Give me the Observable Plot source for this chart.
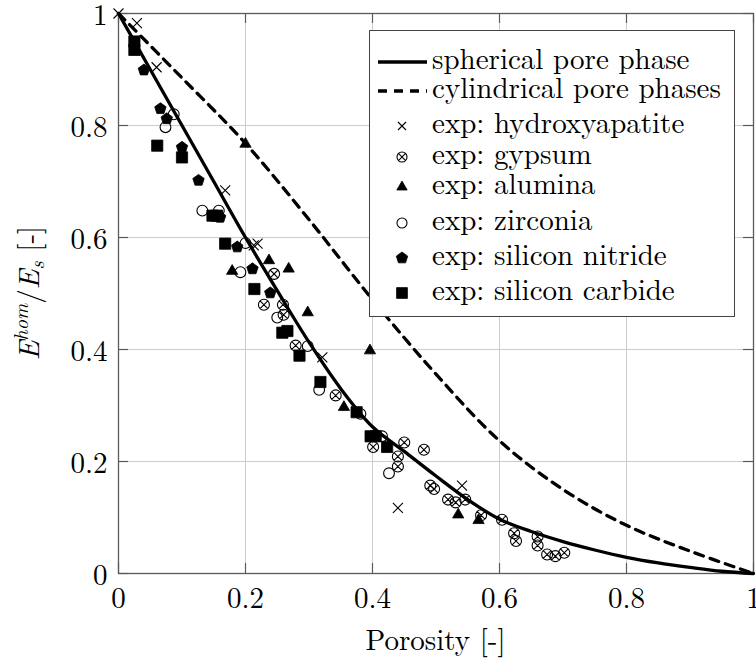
<!DOCTYPE html>
<html><head><meta charset="utf-8">
<script src="https://cdn.jsdelivr.net/npm/d3@7"></script>
<script src="https://cdn.jsdelivr.net/npm/@observablehq/plot@0.6"></script>
<style>
body{margin:0;background:#fff;}
#wrap{position:relative;width:756px;height:661px;overflow:hidden;background:#fff;}
#legend{position:absolute;left:369px;top:30px;}
#wrap svg text{font-family:"Latin Modern Roman","CMU Serif","Liberation Serif","DejaVu Serif","Tinos","Noto Serif","FreeSerif","Nimbus Roman","TeX Gyre Termes","Times New Roman",Times,serif !important;}
</style></head><body><div id="wrap"></div>
<script>
// ---- data ----
const xTicks = [0, 0.2, 0.4, 0.6, 0.8, 1];
const yTicks = [0, 0.2, 0.4, 0.6, 0.8, 1];
const tickLabels = ["0", "0.2", "0.4", "0.6", "0.8", "1"];

const sphericalPorosity = [0, 0.05, 0.1, 0.15, 0.2, 0.25, 0.3, 0.35, 0.4, 0.45, 0.5, 0.55, 0.6, 0.65, 0.7, 0.75, 0.8, 0.85, 0.9, 0.95, 1];
const sphericalModulus  = [1, 0.90, 0.80, 0.70, 0.60, 0.505, 0.413, 0.33, 0.262, 0.218, 0.174, 0.132, 0.097, 0.075, 0.057, 0.042, 0.029, 0.019, 0.011, 0.004, 0];

const cylindricalPorosity = [0, 0.1, 0.2, 0.3, 0.4, 0.5, 0.6, 0.7, 0.8, 0.9, 1];
const cylindricalModulus  = [1, 0.885, 0.768, 0.632, 0.489, 0.356, 0.237, 0.150, 0.086, 0.040, 0];

const hydroxyapatite = [[0, 1.0], [0.029, 0.983], [0.06, 0.904], [0.168, 0.684], [0.213, 0.586], [0.219, 0.589], [0.321, 0.386], [0.44, 0.117], [0.541, 0.157]];
const gypsum = [[0.245, 0.535], [0.229, 0.48], [0.259, 0.48], [0.26, 0.462], [0.279, 0.407], [0.342, 0.318], [0.401, 0.226], [0.45, 0.234], [0.481, 0.221], [0.44, 0.209], [0.44, 0.191], [0.491, 0.157], [0.497, 0.151], [0.519, 0.132], [0.531, 0.127], [0.546, 0.132], [0.571, 0.104], [0.604, 0.096], [0.623, 0.072], [0.626, 0.058], [0.66, 0.066], [0.66, 0.05], [0.675, 0.034], [0.688, 0.031], [0.702, 0.037]];
const alumina = [[0.2, 0.767], [0.179, 0.54], [0.237, 0.559], [0.268, 0.544], [0.298, 0.466], [0.355, 0.297], [0.396, 0.398], [0.535, 0.105], [0.567, 0.095]];
const zirconia = [[0.074, 0.797], [0.087, 0.82], [0.132, 0.648], [0.158, 0.648], [0.2, 0.59], [0.192, 0.538], [0.25, 0.457], [0.298, 0.406], [0.316, 0.328], [0.381, 0.285], [0.415, 0.245], [0.426, 0.179]];
const siliconNitride = [[0.04, 0.899], [0.066, 0.83], [0.076, 0.812], [0.1, 0.761], [0.126, 0.702], [0.16, 0.636], [0.187, 0.583], [0.211, 0.544], [0.239, 0.501]];
const siliconCarbide = [[0.025, 0.95], [0.025, 0.935], [0.061, 0.764], [0.1, 0.743], [0.148, 0.639], [0.155, 0.639], [0.168, 0.589], [0.214, 0.508], [0.258, 0.43], [0.266, 0.433], [0.285, 0.389], [0.318, 0.342], [0.375, 0.288], [0.397, 0.245], [0.405, 0.245], [0.423, 0.226]];

const legendLabels = ["spherical pore phase", "cylindrical pore phases", "exp: hydroxyapatite", "exp: gypsum", "exp: alumina", "exp: zirconia", "exp: silicon nitride", "exp: silicon carbide"];

// ---- symbols ----
const R = s => Math.sqrt(s / Math.PI);
const symSquare = {draw(c, s) { const r = R(s); c.rect(-r, -r, 2 * r, 2 * r); }};
const polygon = (n) => ({draw(c, s) { const r = R(s); for (let i = 0; i < n; i++) { const a = -Math.PI / 2 + i * 2 * Math.PI / n; const x = r * Math.cos(a), y = r * Math.sin(a); if (i) c.lineTo(x, y); else c.moveTo(x, y); } c.closePath(); }});
const symPentagon = polygon(5);
const symTriangle = polygon(3);
const symTimes = {draw(c, s) { const r = R(s); c.moveTo(-r, -r); c.lineTo(r, r); c.moveTo(-r, r); c.lineTo(r, -r); }};
const symCircle = {draw(c, s) { const r = R(s); c.moveTo(r, 0); c.arc(0, 0, r, 0, 2 * Math.PI); }};
const symOtimes = {draw(c, s) { const r = R(s); c.moveTo(r, 0); c.arc(0, 0, r, 0, 2 * Math.PI); const q = r / Math.SQRT2; c.moveTo(-q, -q); c.lineTo(q, q); c.moveTo(-q, q); c.lineTo(q, -q); }};

const series = [
  {data: hydroxyapatite, symbol: symTimes, r: 5, fill: "none", stroke: "black", sw: 1.1, lr: 4},
  {data: gypsum, symbol: symOtimes, r: 5.5, fill: "none", stroke: "black", sw: 1.1, lr: 5},
  {data: alumina, symbol: symTriangle, r: 6.5, fill: "black", stroke: "black", sw: 0.8, lr: 6},
  {data: zirconia, symbol: symCircle, r: 5.4, fill: "none", stroke: "black", sw: 1.1, lr: 5},
  {data: siliconNitride, symbol: symPentagon, r: 6, fill: "black", stroke: "black", sw: 0.8, lr: 6},
  {data: siliconCarbide, symbol: symSquare, r: 5.6, fill: "black", stroke: "black", sw: 0.8, lr: 5.4}
];

const fmt = d => tickLabels[xTicks.indexOf(d)] ?? String(d);

const spherical = sphericalPorosity.map((x, i) => ({x, y: sphericalModulus[i]}));
const cylindrical = cylindricalPorosity.map((x, i) => ({x, y: cylindricalModulus[i]}));

const axisColor = "#5a5a5a";
const plot = Plot.plot({
  width: 756, height: 661,
  marginLeft: 118, marginRight: 3, marginTop: 13, marginBottom: 88,
  x: {domain: [0, 1]},
  y: {domain: [0, 1]},
  style: {fontSize: "29px", background: "white", color: "black", overflow: "visible"},
  marks: [
    Plot.gridX(xTicks, {stroke: "#cccccc", strokeOpacity: 1, strokeWidth: 1}),
    Plot.gridY(yTicks, {stroke: "#cccccc", strokeOpacity: 1, strokeWidth: 1}),
    Plot.tickX(xTicks, {x: d => d, insetTop: 550, stroke: axisColor, strokeWidth: 1.2}),
    Plot.tickX(xTicks, {x: d => d, insetBottom: 550, stroke: axisColor, strokeWidth: 1.2}),
    Plot.tickY(yTicks, {y: d => d, insetRight: 625, stroke: axisColor, strokeWidth: 1.2}),
    Plot.tickY(yTicks, {y: d => d, insetLeft: 625, stroke: axisColor, strokeWidth: 1.2}),
    Plot.frame({stroke: axisColor, strokeWidth: 1.3}),
    Plot.axisX(xTicks, {tickSize: 0, tickPadding: 14, tickFormat: fmt, label: null, fill: "black"}),
    Plot.axisY(yTicks, {tickSize: 0, tickPadding: 11, tickFormat: fmt, label: null, fill: "black", dy: 2}),
    Plot.line(spherical, {x: "x", y: "y", stroke: "black", strokeWidth: 3.3, curve: "catmull-rom"}),
    Plot.line(cylindrical, {x: "x", y: "y", stroke: "black", strokeWidth: 3.3, strokeDasharray: "9,7", curve: "catmull-rom"}),
    ...series.map(s => Plot.dot(s.data, {x: d => d[0], y: d => d[1], symbol: s.symbol, r: s.r, fill: s.fill, stroke: s.stroke, strokeWidth: s.sw}))
  ]
});

const svg = d3.select(plot);
// x label
svg.append("text").attr("x", 435.5).attr("y", 650).attr("text-anchor", "middle")
  .style("font-size", "29px").attr("fill", "black").text("Porosity [-]");
// y label
const yl = svg.append("text").attr("transform", "translate(39,293) rotate(-90)").attr("text-anchor", "middle")
  .style("font-size", "29px").attr("fill", "black");
yl.append("tspan").attr("font-style", "italic").text("E");
yl.append("tspan").attr("font-style", "italic").style("font-size", "20px").attr("dy", -11).text("hom");
yl.append("tspan").attr("dy", 11).text("/");
yl.append("tspan").attr("font-style", "italic").text("E");
yl.append("tspan").attr("font-style", "italic").style("font-size", "20px").attr("dy", 5).text("s");
yl.append("tspan").attr("dy", -5).text(" [-]");

const wrap = document.getElementById("wrap");
wrap.appendChild(plot);

// ---- legend ----
const lw = 366, lh = 287;
const leg = d3.create("svg").attr("id", "legend").attr("width", lw).attr("height", lh)
  .style("font-size", "29px");
leg.append("rect").attr("x", 0.5).attr("y", 0.5).attr("width", lw - 1).attr("height", lh - 1)
  .attr("fill", "white").attr("stroke", "#444").attr("stroke-width", 1);
const rowMark = [32, 61, 96, 127, 157, 193, 228, 263];
legendLabels.forEach((t, i) => {
  const my = rowMark[i];
  leg.append("text").attr("x", 63).attr("y", my + 7).attr("fill", "black").text(t);
  if (i < 2) {
    leg.append("line").attr("x1", 9).attr("x2", 58).attr("y1", my).attr("y2", my)
      .attr("stroke", "black").attr("stroke-width", 3.3).attr("stroke-dasharray", i === 1 ? "9,7" : null);
  } else {
    const s = series[i - 2];
    const path = d3.symbol(s.symbol, Math.PI * s.lr * s.lr)();
    leg.append("path").attr("d", path).attr("transform", `translate(33,${my})`)
      .attr("fill", s.fill).attr("stroke", s.stroke).attr("stroke-width", s.sw);
  }
});
wrap.appendChild(leg.node());
</script>
</body></html>
